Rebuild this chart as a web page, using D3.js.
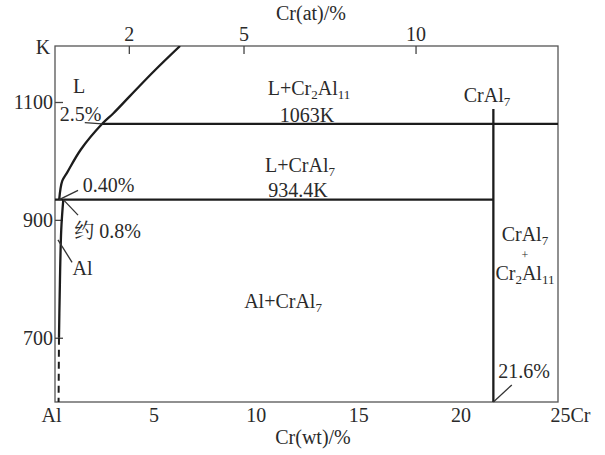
<!DOCTYPE html>
<html>
<head>
<meta charset="utf-8">
<script src="https://cdn.jsdelivr.net/npm/d3@7"></script>
<style>
  body { margin: 0; background: #fff; }
  svg text { font-family: "Liberation Serif", "Noto Serif CJK SC", "Noto Sans CJK SC", serif; fill: #2a2a2a; }
</style>
</head>
<body>
<svg id="drawing_region"></svg>
<script>
// axis ticks
const tempTicks = [700, 900, 1100];
const wtTicks = [0, 5, 10, 15, 20, 25];
const wtLabels = ["Al", "5", "10", "15", "20", "25Cr"];
const atLabels = ["2", "5", "10"];
const atTickWt = [3.8, 9.4, 17.8];   // wt% position of the at% ticks

// liquidus (wt%, K)
const liqWt = [0.4, 0.55, 0.8, 1.45, 2.5, 3.05, 3.85, 5.05, 6.3];
const liqT  = [934.4, 966, 981, 1019, 1063, 1081, 1110, 1153, 1195];
// solidus, solid part then dashed part
const solWt = [0.6, 0.5, 0.42, 0.39];
const solT  = [934.4, 883, 764, 700];
const solDashWt = [0.39, 0.37];
const solDashT  = [700, 591];

// isotherms
const isoT    = [1063, 934.4];
const isoFrom = [2.5, 0];
const isoTo   = [25, 21.6];

// CrAl7 compound line
const compWt = 21.6;
const compT  = [591, 1088];

// labels: text, wt%, K (baseline), size
const labelText = ["L", "2.5%", "0.40%", "约 0.8%", "Al", "L+Cr_2Al_11", "1063K", "L+CrAl_7", "934.4K",
                   "Al+CrAl_7", "CrAl_7", "CrAl_7", "+", "Cr_2Al_11", "21.6%"];
const labelWt   = [1.37, 1.44, 2.81, 2.76, 1.54, 12.6, 12.5, 12.16, 12.06, 11.33, 21.29, 23.14, 23.14, 23.14, 23.1];
const labelT    = [1115, 1068, 947, 869, 806.5, 1112, 1066, 981, 939, 750.5, 1100, 864, 833.5, 798.8, 632];
const labelSize = [20, 20, 20, 20, 20, 20, 20, 20, 20, 20, 20, 20, 12, 20, 20];

// leader lines [wt0, T0, wt1, T1]
const leaders = [
  [1.65, 1065, 2.5, 1063],
  [0.4, 934.4, 1.32, 950],
  [0.6, 934.4, 1.32, 908],
  [0.34, 866, 1.03, 828],
  [21.6, 591, 22.5, 620]
];

const W = 605, H = 455;
const box = { left: 55, right: 558, top: 46, bottom: 402 };

const svg = d3.select('#drawing_region').attr('width', W).attr('height', H);

const x = d3.scaleLinear().domain([0, 25]).range([51, 563]);
const y = d3.scaleLinear().domain([591, 1195]).range([box.bottom, box.top]);

svg.append('defs').append('clipPath').attr('id', 'frame')
  .append('rect')
  .attr('x', box.left).attr('y', box.top)
  .attr('width', box.right - box.left).attr('height', box.bottom - box.top);

// frame
svg.append('rect')
  .attr('x', box.left).attr('y', box.top)
  .attr('width', box.right - box.left).attr('height', box.bottom - box.top)
  .attr('fill', 'none').attr('stroke', '#555').attr('stroke-width', 1.3);

function styleAxis(g) {
  g.select('.domain').remove();
  g.selectAll('line').attr('stroke', '#444').attr('stroke-width', 1.3);
  g.selectAll('text').attr('font-size', 20).attr('fill', '#2a2a2a')
    .attr('font-family', '"Liberation Serif", serif');
}

// left axis
svg.append('g')
  .attr('transform', `translate(${box.left},0)`)
  .call(d3.axisLeft(y).tickValues(tempTicks).tickSize(-8).tickPadding(2)
    .tickFormat(d3.format('d')))
  .call(styleAxis);

// bottom axis
const gb = svg.append('g')
  .attr('transform', `translate(0,${box.bottom})`)
  .call(d3.axisBottom(x).tickValues(wtTicks).tickSize(0).tickPadding(6)
    .tickFormat((d, i) => wtLabels[i]))
  .call(styleAxis);
gb.selectAll('.tick').filter(d => d === 25).select('text')
  .attr('text-anchor', 'start').attr('x', -13);

// top axis (at%)
svg.append('g')
  .attr('transform', `translate(0,${box.top})`)
  .call(d3.axisTop(x).tickValues(atTickWt).tickSize(-8).tickPadding(5)
    .tickFormat((d, i) => atLabels[i]))
  .call(styleAxis);

// axis titles
svg.append('text').attr('x', 311).attr('y', 20).attr('text-anchor', 'middle')
  .attr('font-size', 20).text('Cr(at)/%');
svg.append('text').attr('x', 313).attr('y', 444).attr('text-anchor', 'middle')
  .attr('font-size', 20).text('Cr(wt)/%');
svg.append('text').attr('x', 43).attr('y', 54).attr('text-anchor', 'middle')
  .attr('font-size', 20).text('K');

// phase lines
const plot = svg.append('g').attr('clip-path', 'url(#frame)');
const ink = '#1c1c1c';

const curve = d3.line()
  .x(d => x(d[0])).y(d => y(d[1]))
  .curve(d3.curveCatmullRom);

plot.append('path')
  .datum(d3.zip(liqWt, liqT))
  .attr('d', curve)
  .attr('fill', 'none').attr('stroke', ink).attr('stroke-width', 2.3);

plot.append('path')
  .datum(d3.zip(solWt, solT))
  .attr('d', curve)
  .attr('fill', 'none').attr('stroke', ink).attr('stroke-width', 2.3);

plot.append('path')
  .datum(d3.zip(solDashWt, solDashT))
  .attr('d', curve)
  .attr('fill', 'none').attr('stroke', ink).attr('stroke-width', 2)
  .attr('stroke-dasharray', '7,5');

plot.selectAll('.iso')
  .data(isoT)
  .enter()
  .append('line')
  .attr('x1', (d, i) => x(isoFrom[i])).attr('x2', (d, i) => x(isoTo[i]))
  .attr('y1', d => y(d)).attr('y2', d => y(d))
  .attr('stroke', ink).attr('stroke-width', 2.3);

plot.append('line')
  .attr('x1', x(compWt)).attr('x2', x(compWt))
  .attr('y1', y(compT[0])).attr('y2', y(compT[1]))
  .attr('stroke', ink).attr('stroke-width', 2.3);

svg.selectAll('.leader')
  .data(leaders)
  .enter()
  .append('line')
  .attr('x1', d => x(d[0])).attr('y1', d => y(d[1]))
  .attr('x2', d => x(d[2])).attr('y2', d => y(d[3]))
  .attr('stroke', '#333').attr('stroke-width', 1.3);

// text with _n subscripts
function rich(t, str) {
  let shifted = false;
  str.split(/_(\d+)/).forEach((p, i) => {
    if (!p) return;
    const span = t.append('tspan').text(p);
    if (i % 2 === 1) {
      span.attr('font-size', 13);
      if (!shifted) { span.attr('dy', 4); shifted = true; }
    } else if (shifted) {
      span.attr('dy', -4); shifted = false;
    }
  });
}

labelText.forEach((s, i) => {
  const t = svg.append('text')
    .attr('x', x(labelWt[i])).attr('y', y(labelT[i]))
    .attr('text-anchor', 'middle')
    .attr('font-size', labelSize[i]);
  rich(t, s);
});
</script>
</body>
</html>
